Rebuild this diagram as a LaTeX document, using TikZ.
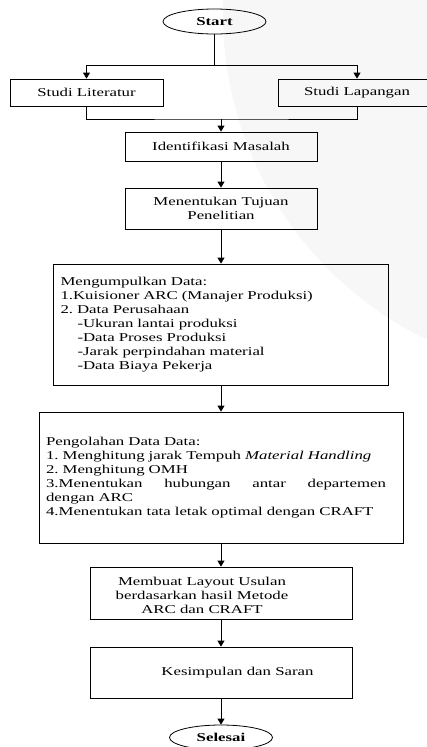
\documentclass[tikz,border=0pt]{standalone}
\usepackage{fontspec}
\setmainfont{Liberation Serif}[FakeStretch=1.4]
\usetikzlibrary{shapes.geometric}
\usetikzlibrary{arrows.meta}

\begin{document}
\begin{tikzpicture}[x=1pt, y=-1pt, font=\fontsize{12}{14}\selectfont\frenchspacing,
  kotak/.style={draw, line width=0.8pt, inner sep=0pt},
  ujung/.style={draw, ellipse, line width=0.8pt, minimum width=103pt, minimum height=25pt, inner sep=0pt, font=\fontsize{12}{14}\selectfont\bfseries},
  garis/.style={line width=0.9pt},
  panah/.style={line width=0.9pt, -{Triangle[length=6pt,width=7pt]}}]
\useasboundingbox (0,0) rectangle (427,747);
\fill[black!3] (585,14) circle (362);

\node[ujung] (start) at (214.5,21.5) {Start};
\node[kotak, minimum width=153pt, minimum height=27pt] (lit) at (86.5,92.5) {Studi Literatur};
\node[kotak, minimum width=158pt, minimum height=27pt] (lap) at (357,92.5) {Studi Lapangan};
\node[kotak, minimum width=192pt, minimum height=29pt] (ident) at (221,146.5) {Identifikasi Masalah};
\node[kotak, minimum width=192pt, minimum height=41pt, align=center] (tujuan) at (221,208.5) {Menentukan Tujuan\\Penelitian};
\node[kotak, minimum width=335pt, minimum height=121pt, text width=321pt, align=left] (kumpul) at (221,324.5) {Mengumpulkan Data:\\
1.Kuisioner ARC (Manajer Produksi)\\
2. Data Perusahaan\\
\hspace*{17pt}-Ukuran lantai produksi\\
\hspace*{17pt}-Data Proses Produksi\\
\hspace*{17pt}-Jarak perpindahan material\\
\hspace*{17pt}-Data Biaya Pekerja};
\node[kotak, minimum width=364pt, minimum height=131pt, text width=350pt, align=left] (olah) at (221,477.5) {Pengolahan Data Data:\\
1. Menghitung jarak Tempuh \textit{Material Handling}\\
2. Menghitung OMH\\
\makebox[340pt][l]{3.Menentukan\hfill hubungan\hfill antar\hfill departemen}\\
dengan ARC\\
4.Menentukan tata letak optimal dengan CRAFT};
\node[kotak, minimum width=262pt, minimum height=52pt] (usulan) at (221,593) {};
\node[align=center] (usulantxt) at (202,595) {Membuat Layout Usulan\\berdasarkan hasil Metode\\ARC dan CRAFT};
\node[kotak, minimum width=262pt, minimum height=51pt] (saran) at (221,672.5) {};
\node (sarantxt) at (237.5,672.5) {Kesimpulan dan Saran};
\node[ujung] (selesai) at (221,737.5) {Selesai};

\coordinate (bagi) at (214.5,65);
\coordinate (gabung) at (221,119);
\draw[garis] (start) -- (bagi);
\draw[panah] (bagi) -| (lit);
\draw[panah] (bagi) -| (lap);
\draw[garis] (lit) |- (gabung) -| (lap);
\draw[panah] (gabung) -- (ident);
\draw[panah] (ident) -- (tujuan);
\draw[panah] (tujuan) -- (kumpul);
\draw[panah] (kumpul) -- (olah);
\draw[panah] (olah) -- (usulan);
\draw[panah] (usulan) -- (saran);
\draw[panah] (saran) -- (selesai);
\end{tikzpicture}
\end{document}
